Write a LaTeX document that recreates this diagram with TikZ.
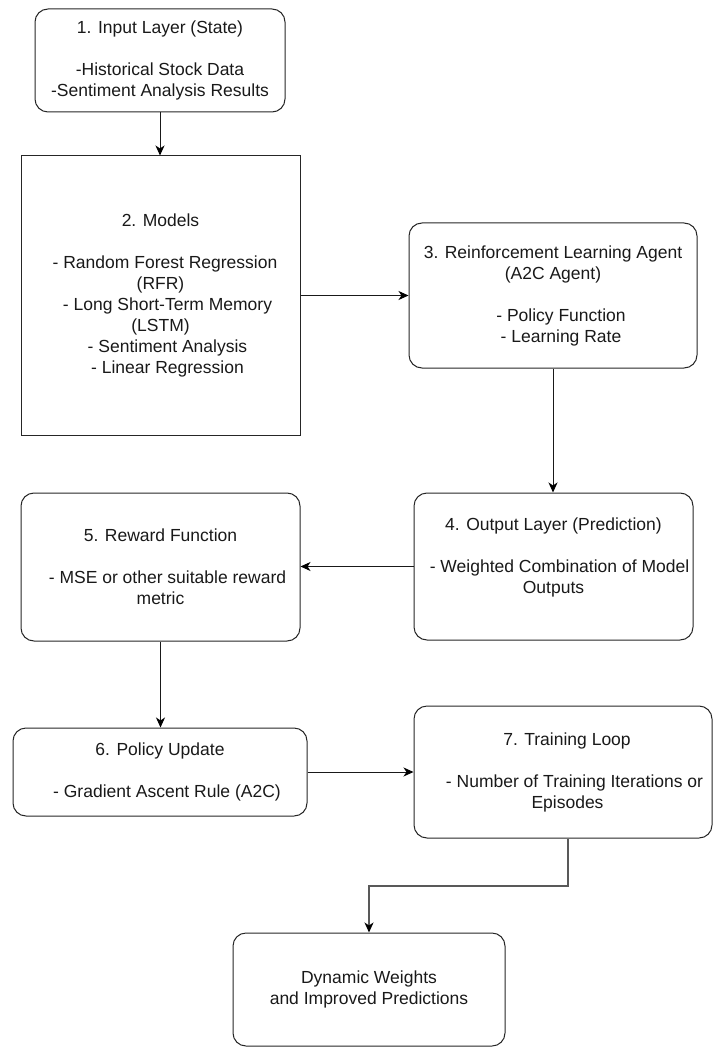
\documentclass[tikz,border=0pt]{standalone}
\usepackage{fontspec}
\setmainfont{Liberation Sans}
\usetikzlibrary{arrows.meta}
\tikzset{
  base/.style={draw=black!85, line width=1pt, inner sep=0pt, align=center,
    font=\fontsize{17.5}{21}\selectfont, text=black!90},
  rbox/.style={base, rounded corners=13pt},
  sbox/.style={base},
  conn/.style={line width=1pt, draw=black!90, -{Stealth[length=10pt,width=9pt,inset=3pt,color=black]}},
}
\newcommand{\lsp}[1]{\hspace*{#1}}
\begin{document}
\begin{tikzpicture}[x=1pt,y=-1pt]
\useasboundingbox (0,0) rectangle (713,1048);
\node[rbox, minimum width=250pt, minimum height=103pt] (n1) at (160,60.5)
  {1. Input Layer (State)\\[21pt]-Historical Stock Data\\-Sentiment Analysis Results};
\node[sbox, minimum width=279pt, minimum height=279pt] (n2) at (160.5,295.5)
  {2. Models\\[21pt]\lsp{9pt}- Random Forest Regression\\(RFR)\\\lsp{14pt}- Long Short-Term Memory\\(LSTM)\\\lsp{14pt}- Sentiment Analysis\\\lsp{14pt}- Linear Regression};
\node[rbox, minimum width=288pt, minimum height=145pt] (n3) at (553,295.5)
  {3. Reinforcement Learning Agent\\(A2C Agent)\\[21pt]\lsp{16pt}- Policy Function\\\lsp{16pt}- Learning Rate};
\node[rbox, minimum width=279pt, minimum height=147pt] (n4) at (553.5,566.5)
  {4. Output Layer (Prediction)\\[21pt]\lsp{12pt}- Weighted Combination of Model\\Outputs\\ ~};
\node[rbox, minimum width=279pt, minimum height=148pt] (n5) at (160.5,567)
  {5. Reward Function\\[21pt]\lsp{14pt}- MSE or other suitable reward\\metric};
\node[rbox, minimum width=294pt, minimum height=88pt] (n6) at (160,772)
  {6. Policy Update\\[21pt]\lsp{14pt}- Gradient Ascent Rule (A2C)};
\node[rbox, minimum width=298pt, minimum height=132pt] (n7) at (563,772)
  {\lsp{8pt}7. Training Loop\\[21pt]\lsp{23pt}- Number of Training Iterations or\\\lsp{9pt}Episodes};
\node[rbox, minimum width=272pt, minimum height=113pt] (n8) at (369,989.5)
  {Dynamic Weights\\and Improved Predictions};
\coordinate (e1) at (568,886);
\draw[conn] (n1) -- (n1 |- n2.north);
\draw[conn] (n2) -- (n3);
\draw[conn] (n3) -- (n3 |- n4.north);
\draw[conn] (n4) -- (n4 -| n5.east);
\draw[conn] (n5) -- (n5 |- n6.north);
\draw[conn] (n6) -- (n7);
\draw[conn, draw=black!65, line width=1.5pt] (e1 |- n7.south) -- (e1) -| (n8.north);
\end{tikzpicture}
\end{document}
